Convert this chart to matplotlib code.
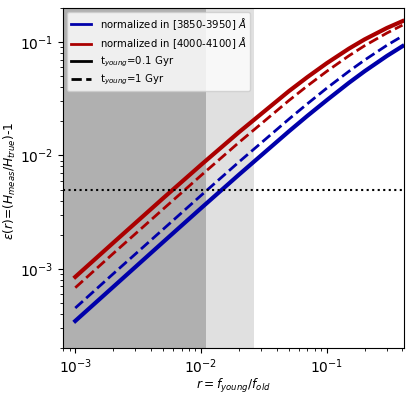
"""
Relative error of the measured H vs young/old flux ratio
"""

import matplotlib
matplotlib.use('Agg')
import matplotlib.pyplot as plt
from matplotlib.lines import Line2D

# flux ratio r = f_young / f_old
ratio = [0.001, 0.002, 0.005, 0.01, 0.02, 0.05, 0.07, 0.1, 0.15, 0.2, 0.3, 0.4]

# normalized in [3850-3950] A
blue_01gyr = [3.46e-4, 6.9e-4, 1.72e-3, 3.42e-3, 6.75e-3, 0.0163, 0.0223, 0.0307, 0.0437, 0.0553, 0.0753, 0.092]
blue_1gyr = [4.5e-4, 9.0e-4, 2.23e-3, 4.43e-3, 8.74e-3, 0.0209, 0.0285, 0.0392, 0.0552, 0.0694, 0.0935, 0.113]

# normalized in [4000-4100] A
red_01gyr = [8.47e-4, 1.69e-3, 4.19e-3, 8.25e-3, 0.016, 0.0369, 0.049, 0.0651, 0.0875, 0.1056, 0.133, 0.153]
red_1gyr = [6.8e-4, 1.36e-3, 3.36e-3, 6.65e-3, 0.013, 0.0305, 0.041, 0.0552, 0.0757, 0.0929, 0.120, 0.141]

threshold = 5e-3
dark_band = 0.011
light_band = 0.0265

blue = '#0000aa'
red = '#aa0000'


def create_plot():
    fig = plt.figure(figsize=(4.15, 3.99), dpi=100)
    ax = fig.add_axes([0.152, 0.128, 0.821, 0.852])

    # shaded regions
    ax.axvspan(7e-4, dark_band, color='#b0b0b0', zorder=0, lw=0)
    ax.axvspan(dark_band, light_band, color='#e0e0e0', zorder=0, lw=0)

    ax.plot(ratio, blue_01gyr, color=blue, lw=3)
    ax.plot(ratio, blue_1gyr, color=blue, lw=2, ls='--')
    ax.plot(ratio, red_01gyr, color=red, lw=3)
    ax.plot(ratio, red_1gyr, color=red, lw=2, ls='--')

    ax.axhline(threshold, color='k', ls=':', lw=1.5)

    ax.set_xscale('log')
    ax.set_yscale('log')
    ax.set_xlim(8e-4, 0.41)
    ax.set_ylim(2e-4, 0.2)

    ax.set_xlabel(r'$r = f_{young}/f_{old}$', fontsize=8.8)
    ax.set_ylabel(r'$\varepsilon(r)$=($H_{meas}/H_{true}$)-1', fontsize=8.8)
    ax.xaxis.set_label_coords(0.5, -0.085)
    ax.yaxis.set_label_coords(-0.132, 0.49)

    handles = [
        Line2D([], [], color=blue, lw=2),
        Line2D([], [], color=red, lw=2),
        Line2D([], [], color='k', lw=2),
        Line2D([], [], color='k', lw=2, ls='--'),
    ]
    labels = [
        r'normalized in [3850-3950] $\AA$',
        r'normalized in [4000-4100] $\AA$',
        r't$_{young}$=0.1 Gyr',
        r't$_{young}$=1 Gyr',
    ]
    ax.legend(handles, labels, loc='upper left', fontsize=7.3,
              labelspacing=0.35, borderaxespad=0.4)

    fig.savefig('out.png', dpi=100)


if __name__ == '__main__':
    create_plot()
